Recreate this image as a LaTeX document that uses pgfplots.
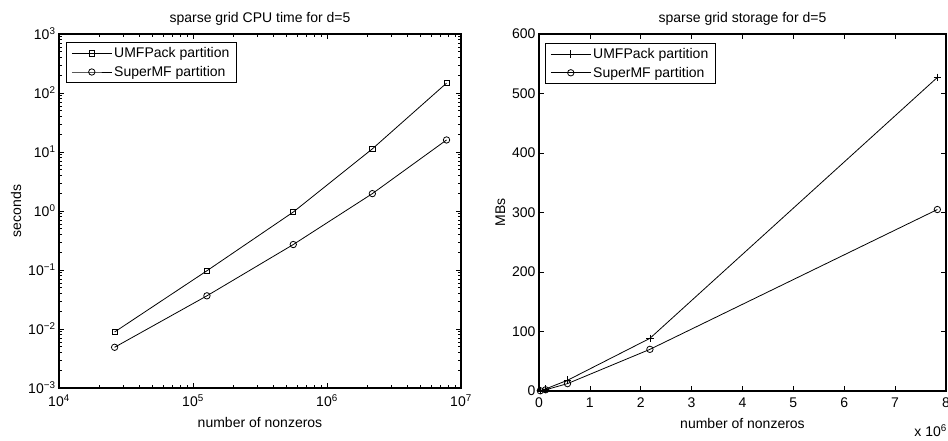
\documentclass[border=0pt]{standalone}
\usepackage{pgfplots}
\pgfplotsset{compat=1.18}
\usepackage{fontspec}
\setmainfont{Liberation Sans}
\newcommand{\fs}{\fontsize{14}{16.8}\selectfont}
\pgfplotsset{
  every axis/.append style={
    scale only axis,
    font=\fs,
    tick label style={font=\fs},
    xticklabel style={yshift=-3pt},
    label style={font=\fs},
    title style={font=\fs, yshift=-1pt},
    axis line style={line width=1.1pt},
    major tick length=5pt,
    minor tick length=3pt,
    every tick/.style={black, line width=0.6pt},
    tick align=inside,
    legend cell align=left,
    legend style={font=\fs, draw=black, line width=0.8pt, inner xsep=5pt, inner ysep=3pt, row sep=3pt,
      at={(0.0174,0.977)}, anchor=north west},
    legend image code/.code={\draw[mark repeat=2, mark phase=2] plot coordinates {(0pt,0pt)(20pt,0pt)(40pt,0pt)};},
  },
}
\begin{document}
\begin{tikzpicture}
\begin{axis}[
  at={(0pt,0pt)}, anchor=south west,
  width=402pt, height=354pt,
  xmode=log, ymode=log,
  xmin=1e4, xmax=1e7, ymin=1e-3, ymax=1e3,
  xtick={1e4,1e5,1e6,1e7},
  xticklabels={10\textsuperscript{4},10\textsuperscript{5},10\textsuperscript{6},10\textsuperscript{7}},
  ytick={1e-3,1e-2,1e-1,1,1e1,1e2,1e3},
  yticklabels={10\textsuperscript{\char"2212 3},10\textsuperscript{\char"2212 2},10\textsuperscript{\char"2212 1},10\textsuperscript{0},10\textsuperscript{1},10\textsuperscript{2},10\textsuperscript{3}},
  title={sparse grid CPU time for d=5},
  xlabel={number of nonzeros},
  ylabel={seconds},
  xlabel style={yshift=-4pt},
  ylabel style={yshift=0pt},
]
\addplot[black, line width=0.8pt, mark=square, mark size=2.6pt, mark options={solid, line width=0.8pt}] coordinates {
(2.6e4,0.0089) (1.27e5,0.097) (5.6e5,0.96) (2.18e6,11.3) (7.8e6,147)};
\addlegendentry{UMFPack partition}
\addplot[black, line width=0.8pt, mark=o, mark size=3.2pt, mark options={solid, line width=0.8pt}] coordinates {
(2.6e4,0.0049) (1.27e5,0.0365) (5.6e5,0.27) (2.18e6,1.97) (7.8e6,16)};
\addlegendentry{SuperMF partition}
\end{axis}
\begin{axis}[
  name=right,
  at={(480pt,-3pt)}, anchor=south west,
  width=407pt, height=357pt,
  xmin=0, xmax=8, ymin=0, ymax=600,
  xtick={0,1,...,8}, ytick={0,100,...,600},
  /pgf/number format/assume math mode=true,
  title={sparse grid storage for d=5},
  xlabel={number of nonzeros},
  ylabel={MBs},
  xlabel style={yshift=-4pt},
  ylabel style={yshift=0pt},
  legend style={at={(0.0147,0.975)}},
]
\addplot[black, line width=0.8pt, mark=+, mark size=3.8pt, mark options={solid, line width=0.8pt}] coordinates {
(0.026,0.8) (0.13,3.5) (0.56,18) (2.18,88.5) (7.83,527)};
\addlegendentry{UMFPack partition}
\addplot[black, line width=0.8pt, mark=o, mark size=3.2pt, mark options={solid, line width=0.8pt}] coordinates {
(0.026,0.4) (0.13,2) (0.56,12.4) (2.18,70) (7.83,305)};
\addlegendentry{SuperMF partition}
\end{axis}
\node[anchor=south east, font=\fs, inner sep=0pt] at ([yshift=-46pt, xshift=1pt]right.south east) {x 10\textsuperscript{6}};
\pgfresetboundingbox
\useasboundingbox (-59pt,-53pt) rectangle (889pt,388pt);
\end{tikzpicture}
\end{document}
